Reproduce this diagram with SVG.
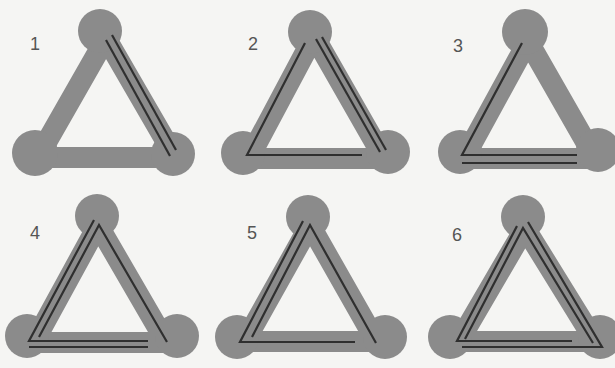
<svg xmlns="http://www.w3.org/2000/svg" width="615" height="368" viewBox="0 0 615 368">
<style>
.bg{fill:#f5f5f3}
.band{fill:none;stroke:#8b8b8b;stroke-width:21;stroke-linejoin:round}
.node{fill:#8b8b8b}
.ln{fill:none;stroke:#2f2f2f;stroke-width:2.2;stroke-linejoin:miter}
.num{font-family:"Liberation Sans",Arial,sans-serif;font-size:18px;fill:#555;text-anchor:middle}
</style>
<rect class="bg" width="615" height="368"/>
<g id="panel1">
<polygon class="band" points="106,38 37.8,157.5 175.2,157.5"/>
<circle class="node" cx="100" cy="31" r="22"/><circle class="node" cx="35" cy="153" r="23"/><circle class="node" cx="173" cy="154" r="22"/>
<text class="num" x="35" y="50">1</text>
</g>
<g id="panel2">
<polygon class="band" points="314,36 248.8,158.5 384,158.5"/>
<circle class="node" cx="310" cy="32" r="22"/><circle class="node" cx="243" cy="153" r="22"/><circle class="node" cx="388" cy="152" r="22"/>
<text class="num" x="253" y="50">2</text>
</g>
<g id="panel3">
<polygon class="band" points="528,41 463.8,158.5 595.2,158.5"/>
<circle class="node" cx="525" cy="32" r="23"/><circle class="node" cx="460" cy="152" r="22"/><circle class="node" cx="598" cy="150" r="22"/>
<text class="num" x="458" y="52">3</text>
</g>
<g id="panel4">
<polygon class="band" points="98,225 33.8,342.5 166.2,342.5"/>
<circle class="node" cx="97" cy="216" r="22"/><circle class="node" cx="27" cy="336" r="22"/><circle class="node" cx="177" cy="336" r="22"/>
<text class="num" x="35" y="239">4</text>
</g>
<g id="panel5">
<polygon class="band" points="310,225 244.8,341.5 376.2,341.5"/>
<circle class="node" cx="308" cy="217" r="22"/><circle class="node" cx="237" cy="337" r="22"/><circle class="node" cx="385" cy="337" r="22"/>
<text class="num" x="252" y="239">5</text>
</g>
<g id="panel6">
<polygon class="band" points="525,228 458.8,341.5 595.2,341.5"/>
<circle class="node" cx="523" cy="217" r="22"/><circle class="node" cx="450" cy="337" r="22"/><circle class="node" cx="600" cy="337" r="22"/>
<text class="num" x="457" y="241">6</text>
</g>
<g id="connectors">
<polyline class="ln" points="106,40 170,156"/>
<polyline class="ln" points="112,35 176,150"/>
<polyline class="ln" points="305,43 247,155 362,155"/>
<polyline class="ln" points="316,39 380,152"/>
<polyline class="ln" points="322,37 386,150"/>
<polyline class="ln" points="522,43 462,155 577,155"/>
<polyline class="ln" points="462,163 577,163"/>
<polyline class="ln" points="94,220 29,341 148,341"/>
<polyline class="ln" points="29,347 148,347"/>
<polyline class="ln" points="39,337 99,225 167,342"/>
<polyline class="ln" points="303,221 240,342 355,342"/>
<polyline class="ln" points="252,337 310,225 376,343"/>
<polyline class="ln" points="517,226 457,341 572,341"/>
<polyline class="ln" points="465,339 523,228 593,343"/>
<polyline class="ln" points="528,222 602,347 462,347"/>
</g>
</svg>
